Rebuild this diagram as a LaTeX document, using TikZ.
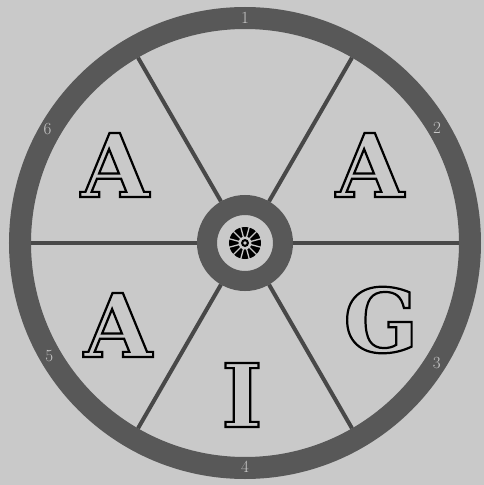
\documentclass[tikz,border=0pt]{standalone}
\usepackage{fontspec}
\newfontfamily\glyphfont{DejaVu Serif}
\usepackage{tikz}
\definecolor{paper}{RGB}{201,201,201}
\definecolor{rimgray}{RGB}{88,88,88}
\definecolor{spokegray}{RGB}{72,72,72}
\definecolor{numgray}{RGB}{200,200,200}
% outlined letters (stroke only)
\newcommand{\hollow}[1]{\special{pdf:literal direct 1 Tr 2.2 w}#1\special{pdf:literal direct 0 Tr}}

\begin{document}
\begin{tikzpicture}[x=1pt,y=1pt,
  numeral/.style={text=numgray, font=\fontsize{17}{17}\selectfont, inner sep=0pt},
  glyph/.style={text=black, font=\glyphfont\bfseries\fontsize{88}{88}\selectfont, inner sep=0pt},
  spoke/.style={spokegray, line width=4pt, shorten <=10pt, shorten >=11pt}]
\fill[paper] (-245,-242) rectangle (239,243);
\useasboundingbox (-245,-242) rectangle (239,243);
\node[circle, draw=rimgray, line width=22pt, outer sep=0pt, minimum size=450pt] (rim) at (0,0) {};
\node[circle, draw=rimgray, fill=paper, line width=20pt, outer sep=0pt, minimum size=76pt] (hub) at (0,0) {};
\draw[spoke] (hub.0) -- (rim.0);
\draw[spoke] (hub.60) -- (rim.60);
\draw[spoke] (hub.120) -- (rim.120);
\draw[spoke] (hub.180) -- (rim.180);
\draw[spoke] (hub.240) -- (rim.240);
\draw[spoke] (hub.300) -- (rim.300);
% flower in the hub
\fill[black] (hub.center) circle (16);
\foreach \a in {15,45,...,345}
  \draw[paper, line width=1.3pt] (hub.center) -- ++(\a:17);
\fill[paper] (hub.center) circle (6.5);
\fill[black] (hub.center) circle (4);
\fill[paper] (hub.center) circle (1.8);
% numbers on the rim
\node[numeral] (n1) at (90:225) {1};
\node[numeral] (n2) at (31:224) {2};
\node[numeral] (n3) at (-32:226) {3};
\node[numeral] (n4) at (-90:224) {4};
\node[numeral] (n5) at (210:226) {5};
\node[numeral] (n6) at (150:228) {6};
% letters
\node[glyph] (a6) at (-130,78) {\hollow{A}};
\node[glyph] (a2) at (125,78) {\hollow{A}};
\node[glyph] (a5) at (-127,-82) {\hollow{A}};
\node[glyph] (g3) at (136,-77) {\hollow{G}};
\node[glyph] (i4) at (-3,-152) {\hollow{I}};
\end{tikzpicture}
\end{document}
